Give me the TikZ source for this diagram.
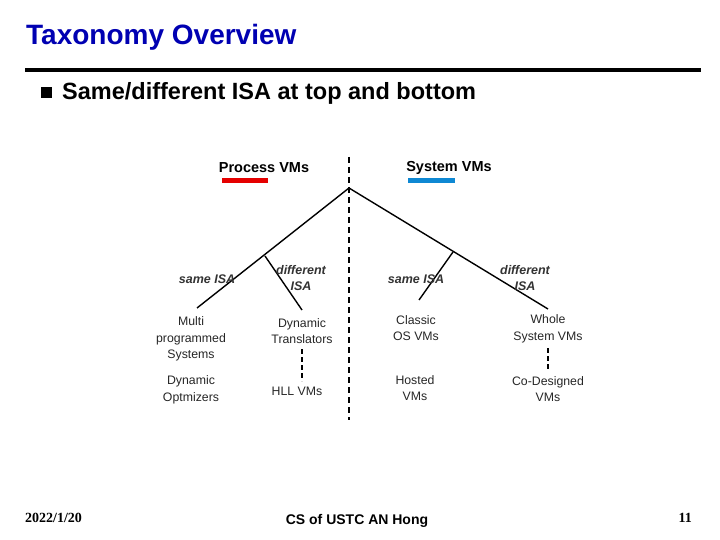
\documentclass[tikz,border=0pt]{standalone}
\usepackage{fontspec}
\usetikzlibrary{calc}
\setmainfont{Liberation Sans}
\newfontfamily\serifft{Liberation Serif}
\begin{document}
\begin{tikzpicture}[x=1pt,y=-1pt,
  lbl/.style={font=\fontsize{12.3}{16.5}\selectfont,align=center,text=black!85,inner sep=0pt},
  isa/.style={font=\bfseries\itshape\fontsize{12.5}{16}\selectfont,align=center,text=black!80,inner sep=0pt},
  hdr/.style={font=\bfseries\fontsize{14.5}{16}\selectfont,inner sep=0pt},
  tree/.style={line width=1.4pt},
  dsh/.style={line width=1.4pt,dash pattern=on 6pt off 4pt}]
\useasboundingbox (0,0) rectangle (720,540);
\node[anchor=west,inner sep=0pt,text=blue!70!black,font=\bfseries\fontsize{28}{32}\selectfont] (title) at (26,37) {Taxonomy Overview};
\draw[line width=3.5pt] (25,70) -- (701,70);
\fill (41,87) rectangle (52,98);
\node[anchor=west,inner sep=0pt,font=\bfseries\fontsize{23.5}{26}\selectfont] (sub) at (62,93) {Same/different ISA at top and bottom};
% tree
\coordinate (root) at (349,188);
\coordinate (lb) at (265,256);
\coordinate (rb) at (453,252);
\draw[dsh] (349,157) -- (349,420);
\node[hdr] (pvm) at (264,168) {Process VMs};
\node[hdr] (svm) at (449,168) {System VMs};
\fill[red!90!black] (222,178) rectangle (268,183);
\fill[cyan!70!blue] (408,178) rectangle (455,183);
\coordinate (mpe) at (197,308);
\coordinate (dte) at (302,310);
\coordinate (cle) at (419,300);
\coordinate (wse) at (548,309);
\draw[tree] (root) -- (mpe);
\draw[tree] (lb) -- (dte);
\draw[tree] (root) -- (wse);
\draw[tree] (rb) -- (cle);
\node[isa] (s1) at (207,279) {same ISA};
\node[isa] (d1) at (301,278) {different\\ISA};
\node[isa] (s2) at (416,279) {same ISA};
\node[isa] (d2) at (525,278) {different\\ISA};
\node[lbl] (mp) at (191,339) {Multi\\programmed\\Systems};
\node[lbl] (dt) at (302,331) {Dynamic\\Translators};
\node[lbl] (co) at (416,328) {Classic\\OS VMs};
\node[lbl] (ws) at (548,329) {Whole\\System VMs};
\node[lbl] (do) at (191,390) {Dynamic\\Optmizers};
\node[lbl] (hl) at (297,391) {HLL VMs};
\node[lbl] (ho) at (415,388) {Hosted\\VMs};
\node[lbl] (cd) at (548,389) {Co-Designed\\VMs};
\draw[dsh,dash pattern=on 5pt off 3pt] (302,349) -- (302,381);
\draw[dsh,dash pattern=on 5pt off 3pt] (548,348) -- (548,371);
% footer
\node[anchor=west,inner sep=0pt,font=\serifft\bfseries\fontsize{14}{16}\selectfont] (date) at (25,518) {2022/1/20};
\node[inner sep=0pt,font=\bfseries\fontsize{14}{16}\selectfont] (ft) at (357,521) {CS of USTC AN Hong};
\node[anchor=east,inner sep=0pt,font=\serifft\bfseries\fontsize{14}{16}\selectfont] (pg) at (692,518) {11};
\end{tikzpicture}
\end{document}
